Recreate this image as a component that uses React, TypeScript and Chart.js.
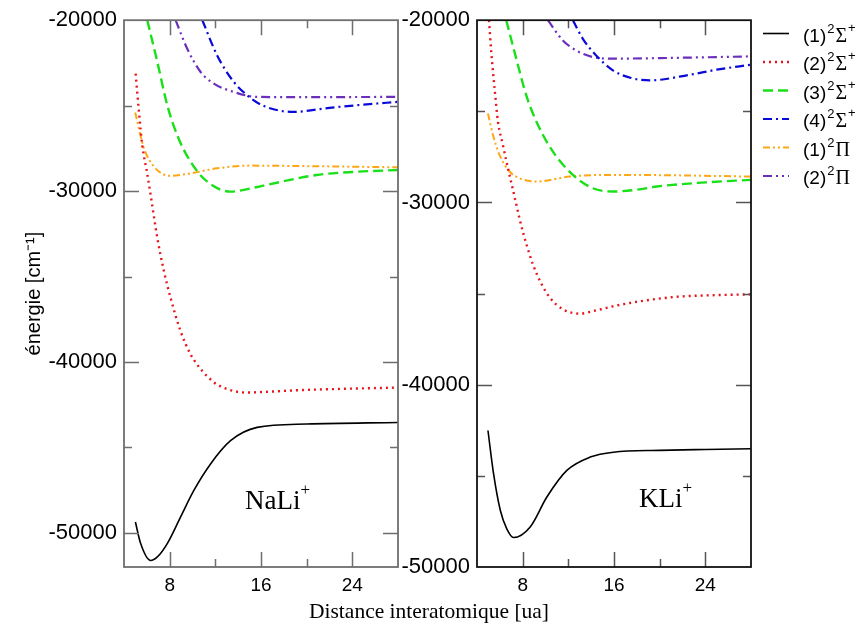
import React, { useEffect, useRef } from "react";
import { Chart, registerables } from "chart.js";
Chart.register(...registerables);

// ---------- axes ----------
const X_MIN = 4;
const X_MAX = 28;
const X_STEP = 4;
const X_LABEL_EVERY = 8;
const NALI_Y_MIN = -52000;
const NALI_Y_MAX = -20000;
const KLI_Y_MIN = -50000;
const KLI_Y_MAX = -20000;
const Y_STEP = 5000;
const Y_LABEL_EVERY = 10000;

// ---------- NaLi+ curves (distance [ua], energy [cm-1]) ----------
const NALI_S1_R = [5.0, 5.46, 6.33, 6.92, 7.79, 8.95, 10.12, 11.58, 13.33, 15.66, 20, 28];
const NALI_S1_E = [-49370, -50630, -51620, -51410, -50630, -49080, -47520, -45970, -44610, -43830, -43630, -43540];

const NALI_S2_R = [5.02, 5.31, 5.6, 6.04, 6.33, 6.92, 7.5, 8.08, 8.95, 9.83, 10.85, 11.73, 12.1, 13.56, 14.73, 17, 19.4, 24, 28];
const NALI_S2_E = [-23130, -25365, -27310, -29000, -30220, -32750, -34695, -36250, -38190, -39550, -40525, -41110, -41300, -41690, -41790, -41730, -41650, -41560, -41500];

const NALI_S3_R = [6.04, 6.92, 7.79, 8.66, 9.83, 11.29, 13.33, 15.66, 16.48, 20.86, 24, 28];
const NALI_S3_E = [-20000, -22450, -24975, -26725, -28280, -29450, -30030, -29760, -29640, -29060, -28880, -28770];

const NALI_S4_R = [10.86, 12.16, 13.62, 14.79, 16.1, 18.81, 22, 25, 28];
const NALI_S4_E = [-20000, -22060, -23615, -24390, -24975, -25365, -25130, -24940, -24780];

const NALI_P1_R = [4.98, 5.75, 6.62, 7.4, 8.08, 9.83, 12.16, 15.08, 20, 28];
const NALI_P1_E = [-25400, -27500, -28570, -29000, -29110, -28960, -28670, -28510, -28540, -28610];

const NALI_P2_R = [8.52, 9.54, 10.71, 11.87, 13.62, 15.66, 20, 28];
const NALI_P2_E = [-20000, -21670, -23030, -23710, -24200, -24490, -24500, -24490];

// ---------- KLi+ curves ----------
const KLI_S1_R = [4.96, 5.45, 6.04, 6.6, 7.2, 8.66, 10.12, 11.87, 13.91, 15.95, 20, 24, 28];
const KLI_S1_E = [-42510, -44880, -46885, -47890, -48380, -47800, -46160, -44700, -43970, -43700, -43600, -43550, -43510];

const KLI_S2_R = [5.05, 5.25, 5.54, 5.84, 6.27, 6.71, 7.15, 7.44, 7.73, 8.08, 8.31, 8.9, 9.63, 10.35, 11.52, 12.98, 14.44, 16.04, 18, 21.2, 24, 28];
const KLI_S2_E = [-20000, -21750, -23750, -25575, -26850, -28125, -29300, -30100, -30900, -31750, -32250, -33400, -34450, -35200, -35860, -36100, -35920, -35680, -35450, -35190, -35100, -35040];

const KLI_S3_R = [6.56, 7.44, 8.31, 9.34, 10.65, 12.4, 14.15, 15.9, 18, 19.75, 24, 28];
const KLI_S3_E = [-20000, -22110, -24110, -25750, -27210, -28490, -29220, -29400, -29300, -29125, -28900, -28760];

const KLI_S4_R = [12.4, 13.27, 14.44, 15.9, 17.5, 19.16, 22.66, 25, 28];
const KLI_S4_E = [-20000, -21020, -21930, -22750, -23170, -23300, -22990, -22715, -22440];

const KLI_P1_R = [4.96, 5.4, 5.98, 6.85, 7.73, 9.19, 12.1, 15.6, 20, 28];
const KLI_P1_E = [-25120, -26300, -27400, -28300, -28670, -28850, -28580, -28490, -28500, -28580];

const KLI_P2_R = [10.21, 11.52, 12.69, 14.15, 15.9, 20, 28];
const KLI_P2_E = [-20000, -21110, -21660, -22020, -22110, -22080, -21985];

// ---------- legend / labels ----------
const LEGEND_NUM = ["(1)", "(2)", "(3)", "(4)", "(1)", "(2)"];
const LEGEND_SYM = ["Σ", "Σ", "Σ", "Σ", "Π", "Π"];
const LEGEND_SUP = ["+", "+", "+", "+", "", ""];
const X_TITLE = "Distance interatomique [ua]";
const Y_TITLE = "énergie [cm⁻¹]";
const NALI_LABEL = "NaLi";
const KLI_LABEL = "KLi";
const NALI_LABEL_POS = [14.6, -48580];
const KLI_LABEL_POS = [18.2, -46720];

// ---------- styles ----------
const COLORS = ["#000000", "#e8141b", "#19e019", "#0a0ad8", "#ffa614", "#6c2fbd"];
const DASHES = [[], [2, 4], [10, 5], [9, 4, 2, 4], [7, 3, 2, 3, 2, 3], [9, 4, 2, 4, 2, 4]];
const WIDTHS = [1.6, 2.4, 2.4, 2.2, 2, 2.2];

const SANS = "'Liberation Sans', Arial, sans-serif";
const SERIF = "'Liberation Serif', 'Times New Roman', serif";

function makeDatasets(rs: number[][], es: number[][]) {
  return rs.map((r, i) => ({
    label: LEGEND_NUM[i] + "2" + LEGEND_SYM[i] + LEGEND_SUP[i],
    data: r.map((x, j) => ({ x, y: es[i][j] })),
    borderColor: COLORS[i],
    backgroundColor: COLORS[i],
    borderWidth: WIDTHS[i],
    borderDash: DASHES[i],
    pointRadius: 0,
    showLine: true,
    fill: false,
    cubicInterpolationMode: "monotone" as const,
  }));
}

function stepTicks(min: number, max: number, step: number) {
  const out: { value: number }[] = [];
  for (let v = Math.ceil(min / step) * step; v <= max; v += step) out.push({ value: v });
  return out;
}

const framePlugin = {
  id: "frame",
  afterDatasetsDraw(chart: any, _args: any, opts: any) {
    const { ctx, chartArea } = chart;
    const { left, right, top, bottom } = chartArea;
    const xs = chart.scales.x;
    const ys = chart.scales.y;
    ctx.save();
    ctx.setLineDash([]);
    ctx.strokeStyle = opts.tickColor;
    ctx.lineWidth = 1.5;
    ctx.beginPath();
    xs.ticks.forEach((t: any) => {
      const v = t.value;
      if (v <= X_MIN || v >= X_MAX) return;
      const px = Math.round(xs.getPixelForValue(v)) + 0.5;
      const len = v % X_LABEL_EVERY === 0 ? 15 : 8;
      ctx.moveTo(px, bottom);
      ctx.lineTo(px, bottom - len);
      ctx.moveTo(px, top);
      ctx.lineTo(px, top + len);
    });
    ys.ticks.forEach((t: any) => {
      const v = t.value;
      if (v % Y_STEP !== 0 || v <= ys.min || v >= ys.max) return;
      const py = Math.round(ys.getPixelForValue(v)) + 0.5;
      const len = v % Y_LABEL_EVERY === 0 ? 15 : 8;
      ctx.moveTo(left, py);
      ctx.lineTo(left + len, py);
      ctx.moveTo(right, py);
      ctx.lineTo(right - len, py);
    });
    ctx.stroke();
    ctx.strokeStyle = opts.color;
    ctx.lineWidth = 1.8;
    ctx.strokeRect(left, top, right - left, bottom - top);
    ctx.restore();
  },
};

function drawLabel(ctx: any, text: string, x: number, y: number) {
  ctx.font = "27px " + SERIF;
  ctx.fillStyle = "#000";
  ctx.textAlign = "left";
  ctx.textBaseline = "alphabetic";
  ctx.fillText(text, x, y);
  const w = ctx.measureText(text).width;
  ctx.font = "17px " + SERIF;
  ctx.fillText("+", x + w, y - 14);
}

const textPlugin = {
  id: "texts",
  afterDraw(chart: any, _args: any, opts: any) {
    const { ctx, chartArea } = chart;
    const xs = chart.scales.x;
    const ys = chart.scales.y;
    ctx.save();
    if (opts.panel === "left") {
      drawLabel(ctx, NALI_LABEL, xs.getPixelForValue(NALI_LABEL_POS[0]), ys.getPixelForValue(NALI_LABEL_POS[1]));
      ctx.font = "21.5px " + SERIF;
      ctx.textAlign = "center";
      ctx.textBaseline = "alphabetic";
      ctx.fillStyle = "#000";
      ctx.fillText(X_TITLE, chartArea.right + 31, chart.height - 8);
    } else {
      drawLabel(ctx, KLI_LABEL, xs.getPixelForValue(KLI_LABEL_POS[0]), ys.getPixelForValue(KLI_LABEL_POS[1]));
      // legend
      const x0 = chartArea.right + 12;
      const tx = chartArea.right + 52;
      chart.data.datasets.forEach((ds: any, i: number) => {
        const y = 33.5 + i * 28.5;
        ctx.strokeStyle = ds.borderColor;
        ctx.lineWidth = ds.borderWidth;
        ctx.setLineDash(ds.borderDash);
        ctx.beginPath();
        ctx.moveTo(x0, y);
        ctx.lineTo(x0 + 26, y);
        ctx.stroke();
        ctx.setLineDash([]);
        ctx.fillStyle = "#000";
        ctx.textAlign = "left";
        ctx.textBaseline = "alphabetic";
        const base = y + 8;
        let cx = tx;
        ctx.font = "19px " + SANS;
        ctx.fillText(LEGEND_NUM[i], cx, base);
        cx += ctx.measureText(LEGEND_NUM[i]).width + 1;
        ctx.font = "13px " + SANS;
        ctx.fillText("2", cx, base - 9);
        cx += ctx.measureText("2").width + 1;
        ctx.font = "20px " + SERIF;
        ctx.fillText(LEGEND_SYM[i], cx, base);
        cx += ctx.measureText(LEGEND_SYM[i]).width + 1;
        if (LEGEND_SUP[i]) {
          ctx.font = "13px " + SANS;
          ctx.fillText(LEGEND_SUP[i], cx, base - 10);
        }
      });
    }
    ctx.restore();
  },
};

function makeConfig(
  datasets: any[],
  yMin: number,
  yMax: number,
  padLeft: number,
  yWidth: number,
  padRight: number,
  panel: string,
  frameColor: string,
  tickColor: string,
  withTitle: boolean
): any {
  return {
    type: "scatter",
    data: { datasets },
    plugins: [framePlugin, textPlugin],
    options: {
      animation: false,
      responsive: false,
      maintainAspectRatio: false,
      layout: { padding: { left: padLeft, right: padRight, top: 18, bottom: 0 } },
      plugins: {
        legend: { display: false },
        tooltip: { enabled: false },
        frame: { color: frameColor, tickColor },
        texts: { panel },
      },
      scales: {
        x: {
          type: "linear",
          min: X_MIN,
          max: X_MAX,
          grid: { display: false, drawTicks: false },
          border: { display: false },
          ticks: {
            autoSkip: false,
            maxRotation: 0,
            padding: 7,
            color: "#000",
            font: { family: SANS, size: 19 },
            callback: (v: number) => (v % X_LABEL_EVERY === 0 ? String(v) : ""),
          },
          afterBuildTicks: (s: any) => {
            s.ticks = stepTicks(X_MIN, X_MAX, X_STEP);
          },
          afterFit: (s: any) => {
            s.height = 59;
          },
        },
        y: {
          type: "linear",
          min: yMin,
          max: yMax,
          grid: { display: false, drawTicks: false },
          border: { display: false },
          ticks: {
            autoSkip: false,
            padding: 7,
            color: "#000",
            font: { family: SANS, size: 22 },
            callback: (v: number) => (v % Y_LABEL_EVERY === 0 ? String(v) : ""),
          },
          afterBuildTicks: (s: any) => {
            s.ticks = stepTicks(yMin, yMax, Y_STEP);
          },
          title: {
            display: withTitle,
            text: Y_TITLE,
            color: "#000",
            font: { family: SANS, size: 20 },
            padding: { top: 22, bottom: 0 },
          },
          afterFit: (s: any) => {
            s.width = yWidth;
          },
        },
      },
    },
  };
}

export default function App() {
  const leftRef = useRef<HTMLCanvasElement>(null);
  const rightRef = useRef<HTMLCanvasElement>(null);

  useEffect(() => {
    const left = makeDatasets(
      [NALI_S1_R, NALI_S2_R, NALI_S3_R, NALI_S4_R, NALI_P1_R, NALI_P2_R],
      [NALI_S1_E, NALI_S2_E, NALI_S3_E, NALI_S4_E, NALI_P1_E, NALI_P2_E]
    );
    const right = makeDatasets(
      [KLI_S1_R, KLI_S2_R, KLI_S3_R, KLI_S4_R, KLI_P1_R, KLI_P2_R],
      [KLI_S1_E, KLI_S2_E, KLI_S3_E, KLI_S4_E, KLI_P1_E, KLI_P2_E]
    );
    const c1 = new Chart(
      leftRef.current as HTMLCanvasElement,
      makeConfig(left, NALI_Y_MIN, NALI_Y_MAX, 0, 124, 466, "left", "#6e6e6e", "#6e6e6e", true)
    );
    const c2 = new Chart(
      rightRef.current as HTMLCanvasElement,
      makeConfig(right, KLI_Y_MIN, KLI_Y_MAX, 390, 87, 113, "right", "#111111", "#555555", false)
    );
    return () => {
      c1.destroy();
      c2.destroy();
    };
  }, []);

  return (
    <div style={{ position: "fixed", left: 0, top: 0, width: 864, height: 626, background: "#fff" }}>
      <canvas ref={leftRef} width={864} height={626} style={{ position: "absolute", left: 0, top: 0 }} />
      <canvas ref={rightRef} width={864} height={626} style={{ position: "absolute", left: 0, top: 0 }} />
    </div>
  );
}
